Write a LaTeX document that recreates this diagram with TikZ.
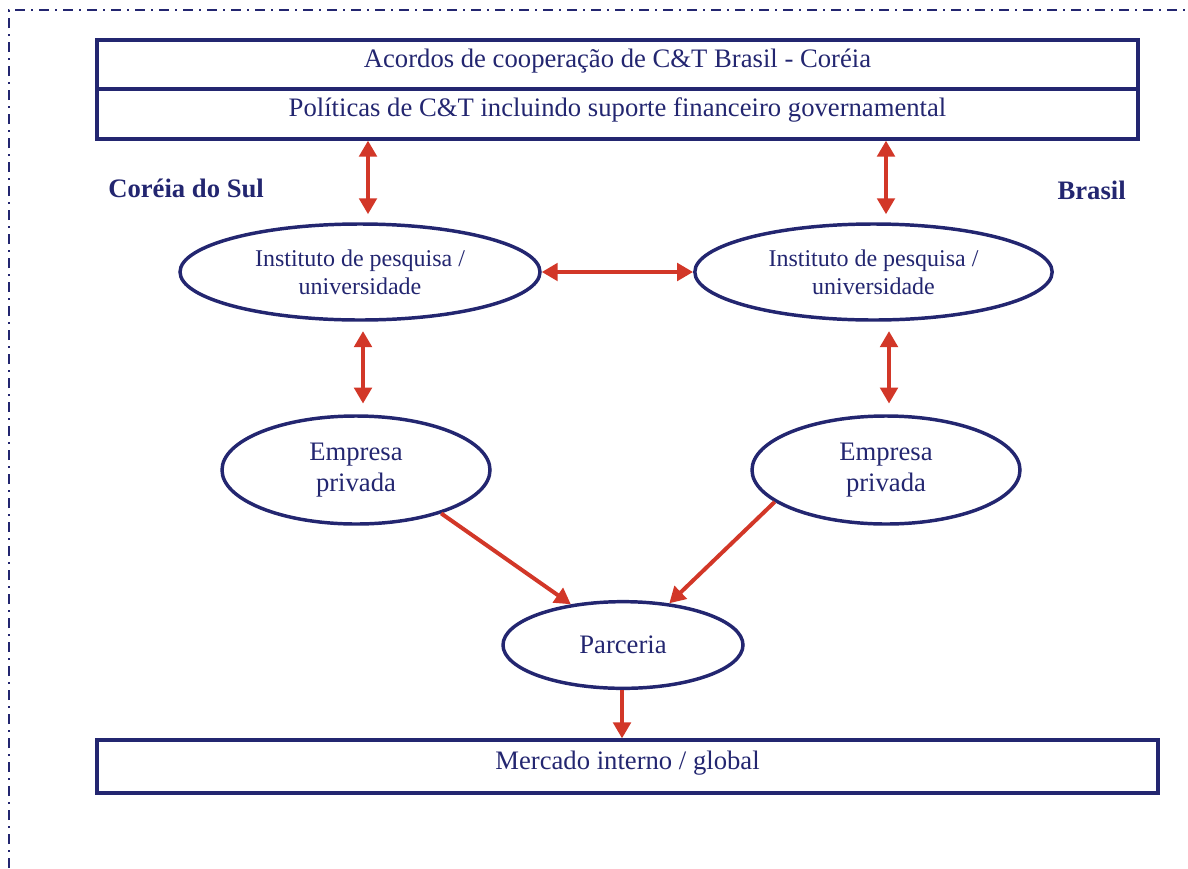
\documentclass[tikz,border=0pt]{standalone}
\usepackage{fontspec}
\setmainfont{Liberation Serif}
\usetikzlibrary{shapes.geometric,arrows.meta,calc}
\definecolor{navy}{RGB}{35,38,112}
\definecolor{arred}{RGB}{210,55,40}
\tikzset{
  frame/.style={draw=navy,line width=1.6pt,dash pattern=on 7.5pt off 4.5pt on 1.5pt off 4.5pt},
  bigbox/.style={draw=navy,line width=2.4pt,rectangle,inner sep=0pt},
  oval/.style={draw=navy,line width=2.6pt,ellipse,inner sep=0pt,align=center,text=navy},
  txt/.style={text=navy,font=\fontsize{20}{23}\selectfont,inner sep=0pt},
  lbl/.style={text=navy,font=\fontsize{20}{23}\selectfont\bfseries,inner sep=0pt},
  arr/.style={draw=arred,line width=3pt,{Triangle[length=12pt,width=13pt]}-{Triangle[length=12pt,width=13pt]}},
  arrone/.style={draw=arred,line width=3pt,-{Triangle[length=12pt,width=13pt]}}
}
\begin{document}
\begin{tikzpicture}[x=0.75pt,y=-0.75pt]
\useasboundingbox (0,0) rectangle (1188,868);
% dash-dot frame
\coordinate (fbl) at (9,868);
\coordinate (ftl) at (9,10);
\coordinate (ftr) at (1188,10);
\draw[frame] (fbl) -- (ftl) -- (ftr);
% top box
\node[bigbox,minimum width=780.75pt,minimum height=74.25pt] (top) at (617.5,89.5) {};
\coordinate (divl) at (97,89);
\coordinate (divr) at (1138,89);
\draw[draw=navy,line width=2.4pt] (divl) -- (divr);
\node[txt] (t1) at (617.5,61) {Acordos de cooperação de C\&T Brasil - Coréia};
\node[txt] (t2) at (617.5,110) {Políticas de C\&T incluindo suporte financeiro governamental};
% labels
\node[lbl,anchor=west] (ks) at (108,188) {Coréia do Sul};
\node[lbl,anchor=east] (br) at (1126,190) {Brasil};
% ellipses
\node[oval,minimum width=270pt,minimum height=72pt,font=\fontsize{18}{21}\selectfont] (I1) at (360,272) {Instituto de pesquisa /\\universidade};
\node[oval,minimum width=268pt,minimum height=72pt,font=\fontsize{18}{21}\selectfont] (I2) at (873.5,272) {Instituto de pesquisa /\\universidade};
\node[oval,minimum width=201pt,minimum height=81pt,font=\fontsize{20}{23}\selectfont] (E1) at (356,470) {Empresa\\privada};
\node[oval,minimum width=201pt,minimum height=81pt,font=\fontsize{20}{23}\selectfont] (E2) at (886,470) {Empresa\\privada};
\node[oval,minimum width=180pt,minimum height=65pt,font=\fontsize{20}{23}\selectfont] (P) at (623,645) {Parceria};
% bottom box
\node[bigbox,minimum width=795.75pt,minimum height=39.75pt] (bot) at (627.5,766.5) {};
\node[txt] (bt) at (627.5,763) {Mercado interno / global};
% arrow x positions
\coordinate (xa) at (368,0);
\coordinate (xb) at (886,0);
\coordinate (xc) at (363,0);
\coordinate (xd) at (889,0);
\coordinate (xe) at (622,0);
% arrows
\draw[arr,shorten >=6pt] (top.south -| xa) -- (I1.north -| xa);
\draw[arr,shorten >=6pt] (top.south -| xb) -- (I2.north -| xb);
\draw[arr] (I1.east) -- (I2.west);
\draw[arr,shorten <=7pt,shorten >=8pt] (I1.south -| xc) -- (E1.north -| xc);
\draw[arr,shorten <=7pt,shorten >=8pt] (I2.south -| xd) -- (E2.north -| xd);
\draw[arrone] (E1.-27) -- (P.142);
\draw[arrone] (E2.-164) -- (P.42);
\draw[arrone] (P.south -| xe) -- (bot.north -| xe);
\end{tikzpicture}
\end{document}
